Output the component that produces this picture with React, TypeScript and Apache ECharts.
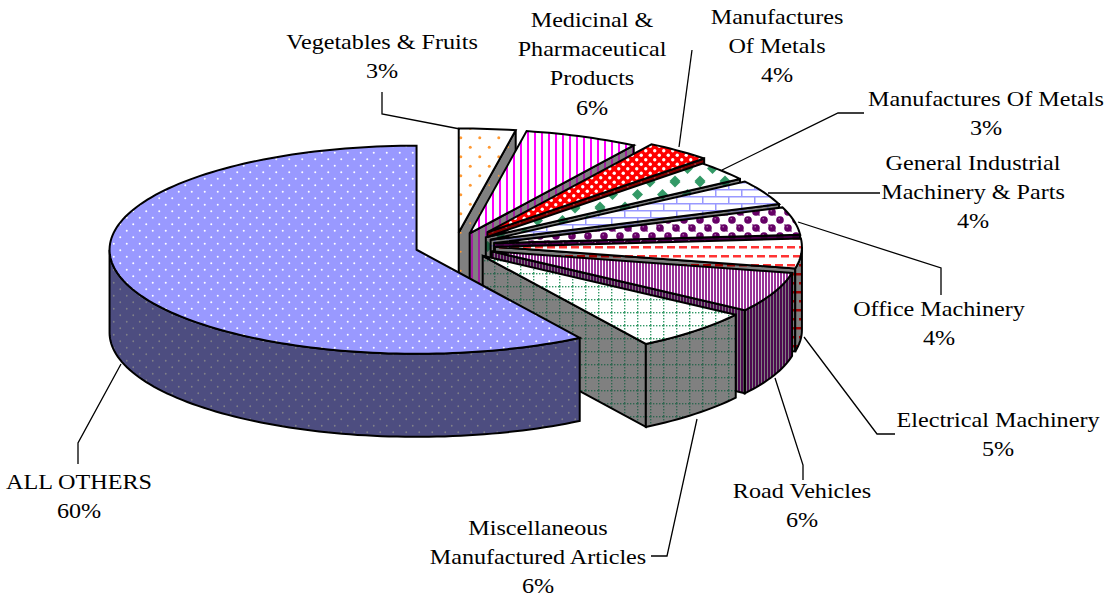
import React, { useEffect, useRef } from "react";
import * as echarts from "echarts";

const categories = [
  "Vegetables & Fruits",
  "Medicinal & Pharmaceutical Products",
  "Manufactures Of Metals (4%)",
  "Manufactures Of Metals (3%)",
  "General Industrial Machinery & Parts",
  "Office Machinery",
  "Electrical Machinery",
  "Road Vehicles",
  "Miscellaneous Manufactured Articles",
  "ALL OTHERS",
];
// Shares
const shares = [2.97, 6.0, 3.5, 3.05, 3.9, 4.3, 4.6, 6.25, 6.5, 58.9];

// Pie layout
const CX = 455, CY = 246, RX = 307, TILT = 0.339, DEPTH = 83;
const EXPLODE = [40, 40, 52, 40, 40, 40, 40, 40, 40, 40];
const FONT = "'Liberation Serif', serif";

type Draw = (c: CanvasRenderingContext2D) => void;
function tile(w: number, h: number, bg: string, draw: Draw) {
  const cv = document.createElement("canvas");
  cv.width = w; cv.height = h;
  const c = cv.getContext("2d")!;
  c.fillStyle = bg; c.fillRect(0, 0, w, h);
  draw(c);
  return { image: cv.toDataURL(), repeat: "repeat", imageWidth: w, imageHeight: h };
}
const dots = (col: string, s: number, r: number): Draw => (c) => {
  c.fillStyle = col;
  for (const [x, y] of [[s / 4, s / 4], [(3 * s) / 4, (3 * s) / 4]]) {
    c.beginPath(); c.arc(x, y, r, 0, 7); c.fill();
  }
};
const stripes = (col: string, s: number, w: number): Draw => (c) => {
  c.fillStyle = col; c.fillRect(Math.floor((s - w) / 2), 0, w, s);
};
const diamonds = (col: string, s: number, d: number): Draw => (c) => {
  c.fillStyle = col;
  for (const [x, y] of [[0, 0], [s, 0], [0, s], [s, s], [s / 2, s / 2]]) {
    c.beginPath();
    c.moveTo(x - d, y); c.lineTo(x, y - d); c.lineTo(x + d, y); c.lineTo(x, y + d);
    c.closePath(); c.fill();
  }
};
const bricks = (col: string, w: number, h: number): Draw => (c) => {
  c.fillStyle = col;
  c.fillRect(0, 0, w, 1.5); c.fillRect(0, h / 2, w, 1.5);
  c.fillRect(0, 0, 1.5, h / 2); c.fillRect(w / 2, h / 2, 1.5, h / 2);
};
const spheres = (col: string, s: number): Draw => (c) => {
  c.fillStyle = "#b080b0";
  c.fillRect(s / 2 - 2, s / 2 - 2, 2, 2);
  c.fillRect(0, 0, 2, 2);
  c.fillStyle = col;
  for (const [x, y] of [[s / 4, s / 4], [(3 * s) / 4, (3 * s) / 4]]) {
    c.beginPath(); c.arc(x, y, s / 4 - 0.2, 0, 7); c.fill();
  }
  c.fillStyle = "#a060a0";
  for (const [x, y] of [[s / 4, s / 4], [(3 * s) / 4, (3 * s) / 4]]) {
    c.fillRect(x - 1.5, y - 2, 1.5, 1.5);
  }
};
const dashes = (col: string): Draw => (c) => {
  c.fillStyle = col;
  c.fillRect(1, 3, 8, 2.5); c.fillRect(13, 3, 8, 2.5);
  c.fillRect(7, 12, 8, 2.5); c.fillRect(19, 12, 5, 2.5); c.fillRect(0, 12, 3, 2.5);
};
const grid = (col: string, s: number): Draw => (c) => {
  c.fillStyle = col;
  for (let i = 0; i < s; i += 3) {
    c.fillRect(i, 0, 1.4, 1.4); c.fillRect(0, i, 1.4, 1.4);
  }
};

function buildStyles() {
  return [
    { top: tile(19, 19, "#ffffff", dots("#ff9933", 19, 1.5)), wall: tile(19, 19, "#808080", dots("#ff9933", 19, 0.9)) },
    { top: tile(7, 7, "#ffffff", stripes("#ff00ff", 7, 2)), wall: tile(7, 7, "#808080", stripes("#a020a0", 7, 2)) },
    { top: tile(9, 9, "#ff0000", dots("#ffffff", 9, 1.7)), wall: tile(9, 9, "#800000", dots("#a04040", 9, 1)) },
    { top: tile(25, 26, "#ffffff", diamonds("#339966", 25, 5.5)), wall: tile(25, 26, "#808080", diamonds("#1f5f40", 25, 5.5)) },
    { top: tile(26, 14, "#ffffff", bricks("#9999ff", 26, 14)), wall: tile(26, 14, "#808080", bricks("#6666a0", 26, 14)) },
    { top: tile(16, 16, "#ffffff", spheres("#660066", 16)), wall: tile(16, 16, "#4d004d", spheres("#330033", 16)) },
    { top: tile(24, 18, "#ffffff", dashes("#ff3333")), wall: tile(24, 18, "#808080", dashes("#a00000")) },
    { top: tile(3, 3, "#ffffff", stripes("#993399", 3, 2)), wall: tile(3, 3, "#808080", stripes("#4d0a50", 3, 2)) },
    { top: tile(13, 13, "#ffffff", grid("#339966", 13)), wall: tile(13, 13, "#808080", grid("#2f6650", 13)) },
    { top: tile(13, 13, "#9999ff", dots("#ffffff", 13, 1)), wall: tile(13, 13, "#4d4d80", dots("#808088", 13, 0.9)) },
  ];
}

const labels: { x: number; lines: string[]; y: number }[] = [
  { x: 382, y: 42, lines: ["Vegetables & Fruits", "3%"] },
  { x: 592, y: 20, lines: ["Medicinal &", "Pharmaceutical", "Products", "6%"] },
  { x: 777, y: 17, lines: ["Manufactures", "Of Metals", "4%"] },
  { x: 986, y: 99, lines: ["Manufactures Of Metals", "3%"] },
  { x: 973, y: 163, lines: ["General Industrial", "Machinery & Parts", "4%"] },
  { x: 939, y: 309, lines: ["Office Machinery", "4%"] },
  { x: 998, y: 420, lines: ["Electrical Machinery", "5%"] },
  { x: 802, y: 491, lines: ["Road Vehicles", "6%"] },
  { x: 538, y: 528, lines: ["Miscellaneous", "Manufactured Articles", "6%"] },
  { x: 79, y: 482, lines: ["ALL OTHERS", "60%"] },
];

const leaders: number[][][] = [
  [[382, 92], [382, 114], [460, 129]],
  [[692, 50], [679, 147]],
  [[864, 113], [838, 113], [722, 170]],
  [[880, 193], [768, 193]],
  [[798, 222], [941, 268], [941, 295]],
  [[804, 337], [877, 434], [895, 434]],
  [[775, 378], [803, 465], [803, 480]],
  [[697, 419], [667, 556], [651, 556]],
  [[121, 364], [78, 443], [78, 464]],
];

export default function App() {
  const ref = useRef<HTMLDivElement>(null);
  useEffect(() => {
    const chart = echarts.init(ref.current!, null, { renderer: "svg" });
    const fills = buildStyles();
    const total = shares.reduce((a, b) => a + b, 0);
    let acc = 0;
    const spans = shares.map((v) => {
      const s = acc; acc += (v / total) * 360;
      return [s, acc];
    });
    const rad = (d: number) => (d * Math.PI) / 180;

    const renderItem = (params: any) => {
      const i = params.dataIndex;
      const [a0, a1] = spans[i];
      const mid = rad((a0 + a1) / 2);
      const ax = CX + EXPLODE[i] * Math.sin(mid);
      const ay = CY - EXPLODE[i] * TILT * Math.cos(mid);
      const ry = RX * TILT;
      const pt = (deg: number, dz = 0) => [
        ax + RX * Math.sin(rad(deg)),
        ay - ry * Math.cos(rad(deg)) + dz,
      ];
      const arc = (from: number, to: number, dz = 0) => {
        const out: number[][] = [];
        const n = Math.max(2, Math.ceil(Math.abs(to - from) / 1.5));
        for (let k = 0; k <= n; k++) out.push(pt(from + ((to - from) * k) / n, dz));
        return out;
      };
      const line = { stroke: "#000", lineWidth: 2, lineJoin: "miter", miterLimit: 3 };
      const children: any[] = [];
      const { top, wall } = fills[i];
      if (a1 < 180) {
        children.push({
          type: "polygon",
          shape: { points: [[ax, ay], pt(a1), pt(a1, DEPTH), [ax, ay + DEPTH]] },
          style: { fill: wall, ...line },
        });
      }
      const w0 = Math.max(a0, 90), w1 = Math.min(a1, 270);
      if (w1 > w0) {
        children.push({
          type: "polygon",
          shape: { points: [...arc(w0, w1), ...arc(w1, w0, DEPTH)] },
          style: { fill: wall, ...line },
        });
      }
      children.push({
        type: "polygon",
        shape: { points: [[ax, ay], ...arc(a0, a1)] },
        style: { fill: top, ...line },
      });
      return { type: "group", children };
    };

    const graphic: any[] = [];
    leaders.forEach((pts) =>
      graphic.push({
        type: "polyline",
        shape: { points: pts },
        style: { stroke: "#000", lineWidth: 1.3, fill: "none" },
        z: 10,
      })
    );
    labels.forEach((l) =>
      l.lines.forEach((t, k) =>
        graphic.push({
          type: "text",
          x: l.x,
          y: l.y + k * 29.2,
          scaleX: 1.15,
          z: 11,
          style: {
            text: t,
            fill: "#000",
            font: `21px ${FONT}`,
            align: "center",
            verticalAlign: "middle",
          },
        })
      )
    );

    chart.setOption({
      animation: false,
      backgroundColor: "#ffffff",
      graphic,
      series: [
        {
          type: "custom",
          coordinateSystem: "none",
          silent: true,
          data: shares.map((v, i) => ({ name: categories[i], value: [v] })),
          renderItem,
        },
      ],
    });
    return () => chart.dispose();
  }, []);
  return (
    <div
      ref={ref}
      style={{ position: "fixed", left: 0, top: 0, width: 1108, height: 599 }}
    />
  );
}
